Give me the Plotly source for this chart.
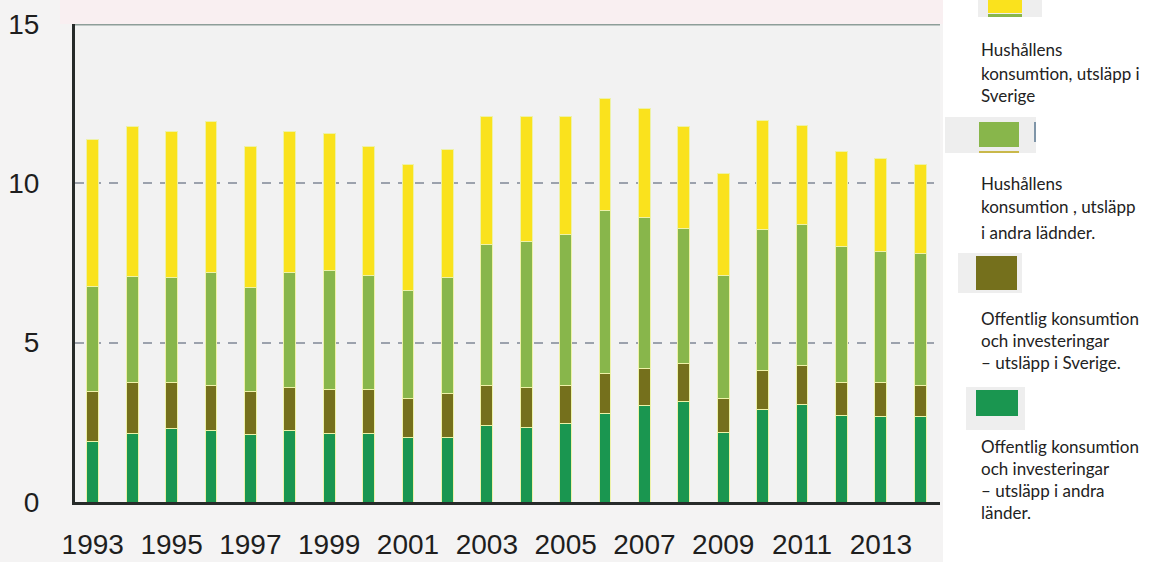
import plotly.graph_objects as go

years = list(range(1993, 2015))
# Offentlig konsumtion och investeringar – utsläpp i andra länder (bottom)
off_andra = [1.89, 2.15, 2.31, 2.23, 2.12, 2.23, 2.15, 2.15, 2.03, 2.03, 2.40,
             2.33, 2.47, 2.78, 3.02, 3.15, 2.18, 2.91, 3.07, 2.70, 2.68, 2.68]
# Offentlig konsumtion och investeringar – utsläpp i Sverige
off_sverige = [1.57, 1.59, 1.43, 1.44, 1.34, 1.37, 1.39, 1.39, 1.22, 1.38, 1.27,
               1.27, 1.20, 1.26, 1.17, 1.20, 1.07, 1.21, 1.20, 1.04, 1.06, 0.99]
# Hushållens konsumtion, utsläpp i andra länder
hus_andra = [3.30, 3.33, 3.31, 3.53, 3.28, 3.60, 3.74, 3.58, 3.40, 3.64, 4.41,
             4.57, 4.74, 5.12, 4.74, 4.22, 3.87, 4.44, 4.44, 4.27, 4.11, 4.13]
# Hushållens konsumtion, utsläpp i Sverige (top)
hus_sverige = [4.62, 4.71, 4.57, 4.73, 4.41, 4.42, 4.27, 4.03, 3.95, 4.00, 4.03,
               3.94, 3.70, 3.51, 3.42, 3.21, 3.19, 3.41, 3.12, 2.98, 2.93, 2.80]

tick_years = list(range(1993, 2014, 2))
tick_labels = [str(y) for y in tick_years]
y_ticks = [0, 5, 10, 15]

series = [
    ("Offentlig konsumtion och investeringar – utsläpp i andra länder", off_andra, "#1a9650"),
    ("Offentlig konsumtion och investeringar – utsläpp i Sverige", off_sverige, "#75701c"),
    ("Hushållens konsumtion, utsläpp i andra länder", hus_andra, "#88b64b"),
    ("Hushållens konsumtion, utsläpp i Sverige", hus_sverige, "#fae21d"),
]

fig = go.Figure()
for name, vals, col in series:
    fig.add_trace(go.Bar(x=years, y=vals, name=name, width=0.30,
                         marker=dict(color=col, line=dict(color="#eef2a8", width=1)),
                         hoverinfo="skip"))

L, R, T, B = 75, 940, 24, 502
W, H = 1155, 562

def px(x):
    return (x - L) / (R - L)

def py(y):
    return (B - y) / (B - T)

shapes = []
# white legend panel
shapes.append(dict(type="rect", xref="paper", yref="paper", x0=px(943), x1=px(W + 5),
                   y0=py(H + 5), y1=py(-5), fillcolor="white", line=dict(width=0), layer="below"))
# pinkish strip above plot
shapes.append(dict(type="rect", xref="paper", yref="paper", x0=px(60), x1=px(943),
                   y0=py(T), y1=py(-5), fillcolor="#f9eff1", line=dict(width=0), layer="below"))
# top line at 15
shapes.append(dict(type="line", xref="paper", yref="y", x0=0, x1=1, y0=15, y1=15,
                   line=dict(color="#8e9e99", width=3)))

def swatch(x0, y0, x1, y1, col, bg):
    bx0, by0, bx1, by1 = bg
    shapes.append(dict(type="rect", xref="paper", yref="paper", x0=px(bx0), x1=px(bx1),
                       y0=py(by1), y1=py(by0), fillcolor="#eeeeee", line=dict(width=0)))
    shapes.append(dict(type="rect", xref="paper", yref="paper", x0=px(x0), x1=px(x1),
                       y0=py(y1), y1=py(y0), fillcolor=col, line=dict(width=0)))

swatch(988, -5, 1022, 13, "#fae21d", (978, -5, 1042, 17))
shapes.append(dict(type="rect", xref="paper", yref="paper", x0=px(988), x1=px(1022),
                   y0=py(17), y1=py(14), fillcolor="#88b64b", line=dict(width=0)))
swatch(979, 122, 1019, 147, "#88b64b", (945, 117, 1036, 153))
shapes.append(dict(type="rect", xref="paper", yref="paper", x0=px(979), x1=px(1019),
                   y0=py(153), y1=py(151), fillcolor="#c9b84a", line=dict(width=0)))
shapes.append(dict(type="line", xref="paper", yref="paper", x0=px(1035), x1=px(1035),
                   y0=py(142), y1=py(122), line=dict(color="#7f95a8", width=2)))
swatch(976, 256, 1017, 290, "#75701c", (958, 253, 1022, 293))
swatch(976, 390, 1018, 416, "#1a9650", (966, 387, 1025, 430))

legend_lines = [
    ("Hushållens", 50), ("konsumtion, utsläpp i", 73), ("Sverige", 96),
    ("Hushållens", 183), ("konsumtion , utsläpp", 206), ("i andra lädnder.", 232),
    ("Offentlig konsumtion", 318), ("och investeringar", 340), ("– utsläpp i Sverige.", 362),
    ("Offentlig konsumtion", 446), ("och investeringar", 468), ("– utsläpp i andra", 490),
    ("länder.", 512),
]
annotations = []
for txt, yy in legend_lines:
    annotations.append(dict(text=txt, xref="paper", yref="paper", x=px(979), y=py(yy),
                            xanchor="left", yanchor="middle", showarrow=False,
                            font=dict(family="Lato, Open Sans, sans-serif", size=17, color="#222222")))

fig.update_layout(
    width=W, height=H,
    margin=dict(l=L, r=W - R, t=T, b=H - B, autoexpand=False),
    paper_bgcolor="#f4f3f3",
    plot_bgcolor="#f2f2f2",
    barmode="stack",
    showlegend=False,
    shapes=shapes,
    annotations=annotations,
    font=dict(family="Liberation Sans, Arial, sans-serif", color="#1e1e1e"),
)
fig.update_xaxes(range=[1992.55, 2014.5], tickvals=tick_years, ticktext=tick_labels,
                 showgrid=False, zeroline=False, showline=True, linecolor="#262a29",
                 linewidth=3, ticks="", tickfont=dict(size=28), ticklabelstandoff=15,
                 automargin=False)
fig.update_yaxes(range=[0, 15], tickvals=y_ticks, showgrid=True, gridcolor="#9ca2ad",
                 gridwidth=2, griddash="9px,8px", zeroline=False, showline=True,
                 linecolor="#262a29", linewidth=3, ticks="", tickfont=dict(size=28),
                 ticklabelstandoff=27, automargin=False)

fig.write_html("out.html", config={"displayModeBar": False},
               post_script="document.body.style.margin='0';document.body.style.overflow='hidden';")
